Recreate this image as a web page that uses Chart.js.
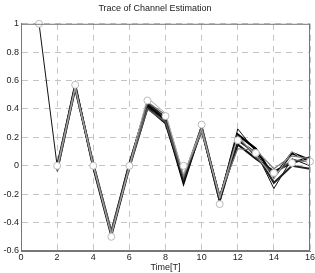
<!DOCTYPE html>
<html>
<head>
<meta charset="utf-8">
<script src="https://cdn.jsdelivr.net/npm/chart.js@4"></script>
<style>
  html, body { margin: 0; padding: 0; background: #fff; }
  #wrap { width: 315px; height: 273px; }
</style>
</head>
<body>
<div id="wrap"><canvas id="chart"></canvas></div>
<script>
// sample times (in T)
var times = [1, 2, 3, 4, 5, 6, 7, 8, 9, 10, 11, 12, 13, 14, 15, 16];
// true channel taps (white circles)
var trueTaps = [1, 0, 0.57, 0, -0.5, 0, 0.46, 0.35, 0, 0.29, -0.27, 0.18, 0.09, -0.05, 0.02, 0.03];
// estimation traces
var est1 = [1, 0, 0.56, 0, -0.48, 0, 0.42, 0.33, -0.11, 0.26, -0.23, 0.26, 0.10, -0.16, 0.05, 0.00];
var est2 = [null, -0.03, 0.55, 0.01, -0.47, 0.01, 0.43, 0.32, -0.12, 0.27, -0.24, 0.22, 0.12, -0.08, 0.09, 0.04];
var est3 = [null, -0.02, 0.57, -0.01, -0.49, -0.01, 0.41, 0.30, -0.09, 0.25, -0.22, 0.15, 0.05, -0.04, 0.02, 0.06];
var est4 = [null, 0, 0.56, 0, -0.48, 0.01, 0.44, 0.34, -0.10, 0.26, -0.25, 0.18, 0.09, -0.12, 0.00, -0.02];
var est5 = [null, -0.04, 0.54, 0, -0.46, 0, 0.40, 0.31, -0.08, 0.28, -0.22, 0.21, 0.06, -0.06, 0.04, 0.03];
var est6 = [null, -0.01, 0.56, 0.02, -0.47, -0.02, 0.45, 0.36, -0.07, 0.24, -0.21, 0.12, 0.11, -0.02, 0.07, 0.05];
var est7 = [null, -0.02, 0.55, 0, -0.49, 0, 0.48, 0.37, -0.06, 0.26, -0.23, 0.20, 0.08, -0.09, 0.10, 0.01];
var xTicks = [0, 2, 4, 6, 8, 10, 12, 14, 16];
var yTicks = [-0.6, -0.4, -0.2, 0, 0.2, 0.4, 0.6, 0.8, 1];

function pts(arr) {
  return times.map(function (t, i) { return { x: t, y: arr[i] }; });
}

var traces = [est7, est6, est5, est4, est3, est2, est1];
var traceColors = ['#aaa', '#777', '#555', '#222', '#111', '#000', '#111'];
var traceWidths = [1, 1.2, 1.5, 2, 2.2, 2.4, 1];

var datasets = traces.map(function (arr, i) {
  return {
    data: pts(arr),
    borderColor: traceColors[i],
    borderWidth: traceWidths[i],
    pointRadius: 0,
    tension: 0,
    fill: false,
    order: 2
  };
});
datasets.push({
  data: pts(trueTaps),
  showLine: false,
  clip: false,
  pointRadius: 3.5,
  pointBackgroundColor: '#fff',
  pointBorderColor: '#bbb',
  pointBorderWidth: 1,
  order: 1
});

// box around the plot area
var frame = {
  id: 'frame',
  afterDraw: function (chart) {
    var a = chart.chartArea, c = chart.ctx;
    c.save();
    c.strokeStyle = '#777';
    c.lineWidth = 1;
    c.strokeRect(a.left + 0.5, a.top + 0.5, a.right - a.left - 1, a.bottom - a.top - 1);
    c.restore();
  }
};

var font = { family: 'Liberation Sans, Arial, sans-serif', size: 9, weight: 'normal' };

new Chart(document.getElementById('chart'), {
  type: 'line',
  data: { datasets: datasets },
  plugins: [frame],
  options: {
    responsive: true,
    maintainAspectRatio: false,
    animation: false,
    layout: { padding: { top: 0, right: 5, bottom: 0, left: 0 } },
    plugins: {
      legend: { display: false },
      tooltip: { enabled: false },
      title: {
        display: true,
        text: 'Trace of Channel Estimation',
        color: '#222',
        font: font,
        padding: { top: 3, bottom: 10 }
      }
    },
    scales: {
      x: {
        type: 'linear',
        min: 0,
        max: 16,
        afterBuildTicks: function (s) { s.ticks = xTicks.map(function (v) { return { value: v }; }); },
        afterFit: function (s) { s.height = 22; s.paddingLeft = 0; s.paddingRight = 0; },
        grid: { color: '#c4c4c4', drawTicks: false },
        border: { display: true, color: '#777', dash: [6, 5] },
        ticks: { color: '#222', font: font, padding: 1, maxRotation: 0 },
        title: { display: true, text: 'Time[T]', color: '#222', font: font, padding: 0 }
      },
      y: {
        min: -0.6,
        max: 1,
        afterBuildTicks: function (s) { s.ticks = yTicks.map(function (v) { return { value: v }; }); },
        afterFit: function (s) { s.width = 21; s.paddingTop = 0; s.paddingBottom = 0; },
        grid: { color: '#c4c4c4', drawTicks: false },
        border: { display: true, color: '#777', dash: [6, 5] },
        ticks: {
          color: '#222', font: font, padding: 2,
          callback: function (v) { return Math.round(v * 10) / 10; }
        }
      }
    }
  }
});
</script>
</body>
</html>
